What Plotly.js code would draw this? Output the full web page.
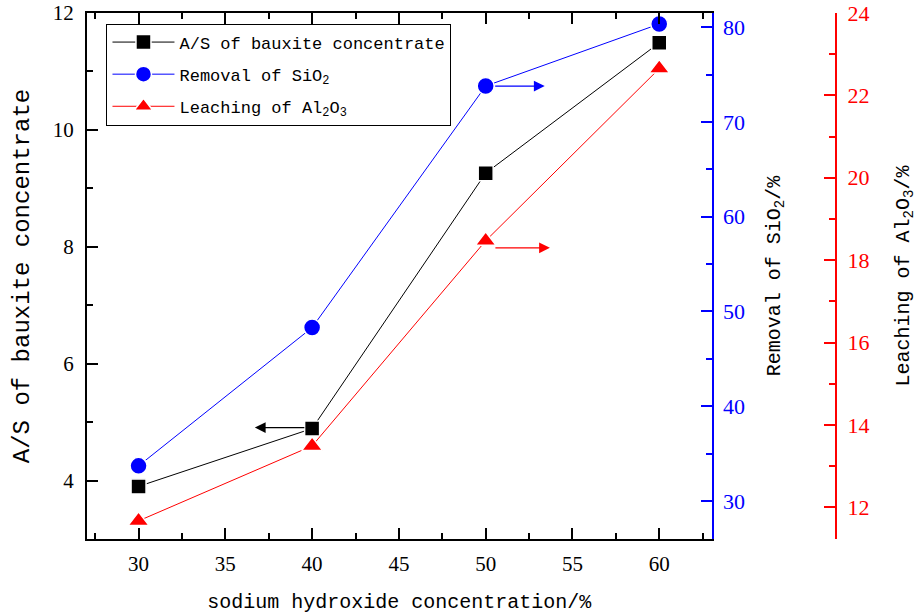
<!DOCTYPE html>
<html>
<head>
<meta charset="utf-8">
<script src="https://cdn.plot.ly/plotly-3.0.1.min.js"></script>
<style>html,body{margin:0;padding:0;background:#fff;}#chart{width:917px;height:614px;}</style>
</head>
<body>
<div id="chart"></div>
<script>
// ---- data ----
var naohConc = [30, 40, 50, 60];
var asRatio = [3.90, 4.89, 9.26, 11.49];        // A/S of bauxite concentrate (left axis)
var sio2Removal = [33.7, 48.3, 73.8, 80.35];    // Removal of SiO2 /% (blue axis)
var al2o3Leaching = [11.67, 13.49, 18.47, 22.65]; // Leaching of Al2O3 /% (red axis)

var seriesNames = ['A/S of bauxite concentrate', 'Removal of SiO<sub>2</sub>', 'Leaching of Al<sub>2</sub>O<sub>3</sub>'];
var xTitle = 'sodium hydroxide concentration/%';
var yTitle = 'A/S of bauxite concentrate';
var y2Title = 'Removal of SiO<sub>2</sub>/%';
var y3Title = 'Leaching of Al<sub>2</sub>O<sub>3</sub>/%';

var MONO = 'Liberation Mono';
var SERIF = 'Liberation Serif';
var BLUE = 'rgb(0,0,255)', RED = 'rgb(255,0,0)';

var traces = [
  {x: naohConc, y: asRatio, yaxis: 'y', name: seriesNames[0], legendgroup: 'a', mode: 'lines+markers',
   line: {color: 'black', width: 1}, marker: {symbol: 'square', size: 15, color: 'black', line: {color: 'white', width: 1.5}}},
  {x: naohConc, y: sio2Removal, yaxis: 'y2', name: seriesNames[1], legendgroup: 'b', mode: 'lines+markers',
   line: {color: BLUE, width: 1}, marker: {symbol: 'circle', size: 17, color: BLUE, line: {color: 'white', width: 1.5}}},
  {x: naohConc, y: al2o3Leaching, yaxis: 'y3', name: seriesNames[2], legendgroup: 'c', mode: 'lines+markers',
   line: {color: RED, width: 1}, marker: {symbol: 'triangle-up', size: 18, color: RED, line: {color: 'white', width: 1.5}}}
];

function arrow(xHead, yVal, yref, color, tailPx, shift) {
  return {x: xHead, y: yVal, xref: 'x', yref: yref, ax: tailPx, ay: 0, axref: 'pixel', ayref: 'pixel',
    text: '', showarrow: true, arrowhead: 2, arrowsize: 1.8, arrowwidth: 1.2, arrowcolor: color, yshift: shift || 0};
}

var layout = {
  width: 917, height: 614,
  margin: {l: 87, r: 81, t: 13, b: 75},
  paper_bgcolor: '#fff', plot_bgcolor: '#fff',
  showlegend: true,
  legend: {x: 0.026, y: 0.98, xanchor: 'left', yanchor: 'top', bgcolor: '#fff', bordercolor: '#000', borderwidth: 1,
    font: {family: MONO, size: 17, color: '#000'}, tracegroupgap: 7, itemwidth: 62},
  xaxis: {domain: [0, 0.834], range: [27.03, 63.02], tickvals: [30, 35, 40, 45, 50, 55, 60],
    ticks: 'inside', ticklen: 11, tickwidth: 2, tickcolor: '#000',
    minor: {dtick: 5, tick0: 27.5, ticks: 'inside', ticklen: 6, tickwidth: 2, tickcolor: '#000'},
    showline: true, linecolor: '#000', linewidth: 2, mirror: 'ticks', showgrid: false, zeroline: false,
    ticklabelstandoff: 5,
    tickfont: {family: SERIF, size: 21, color: '#000'},
    title: {text: xTitle, font: {family: MONO, size: 20, color: '#000'}, standoff: 20}},
  yaxis: {range: [3, 12], tickvals: [4, 6, 8, 10, 12], ticks: 'inside', ticklen: 11, tickwidth: 2, tickcolor: '#000',
    minor: {dtick: 1, tick0: 3, ticks: 'inside', ticklen: 6, tickwidth: 2, tickcolor: '#000'},
    showline: true, linecolor: '#000', linewidth: 2, showgrid: false, zeroline: false,
    ticklabelstandoff: 7,
    tickfont: {family: SERIF, size: 21, color: '#000'},
    title: {text: yTitle, font: {family: MONO, size: 24, color: '#000'}, standoff: 16}},
  yaxis2: {overlaying: 'y', side: 'right', anchor: 'x', range: [25.98, 81.51], tickvals: [30, 40, 50, 60, 70, 80],
    ticks: 'inside', ticklen: 11, tickwidth: 2, tickcolor: BLUE,
    minor: {dtick: 5, tick0: 25, ticks: 'inside', ticklen: 6, tickwidth: 2, tickcolor: BLUE},
    showline: true, linecolor: BLUE, linewidth: 2, showgrid: false, zeroline: false,
    ticklabelstandoff: 5,
    tickfont: {family: SERIF, size: 22, color: BLUE},
    title: {text: y2Title, font: {family: MONO, size: 20, color: '#000'}, standoff: 22}},
  yaxis3: {overlaying: 'y', side: 'right', anchor: 'free', position: 1, range: [11.23, 24.0], tickvals: [12, 14, 16, 18, 20, 22, 24],
    ticks: 'inside', ticklen: 11, tickwidth: 2, tickcolor: RED,
    minor: {dtick: 1, tick0: 11, ticks: 'inside', ticklen: 6, tickwidth: 2, tickcolor: RED},
    showline: true, linecolor: RED, linewidth: 2, showgrid: false, zeroline: false,
    ticklabelstandoff: 6,
    tickfont: {family: SERIF, size: 22, color: RED},
    title: {text: y3Title, font: {family: MONO, size: 20, color: '#000'}, standoff: 26}},
  annotations: [
    arrow(naohConc[1] - 3.3, asRatio[1], 'y', 'black', 51, 1),
    arrow(naohConc[2] + 3.4, sio2Removal[2], 'y2', BLUE, -51, 0),
    arrow(naohConc[2] + 3.7, al2o3Leaching[2], 'y3', RED, -56, -7)
  ]
};

Plotly.newPlot('chart', traces, layout, {displayModeBar: false, staticPlot: true});
</script>
</body>
</html>
